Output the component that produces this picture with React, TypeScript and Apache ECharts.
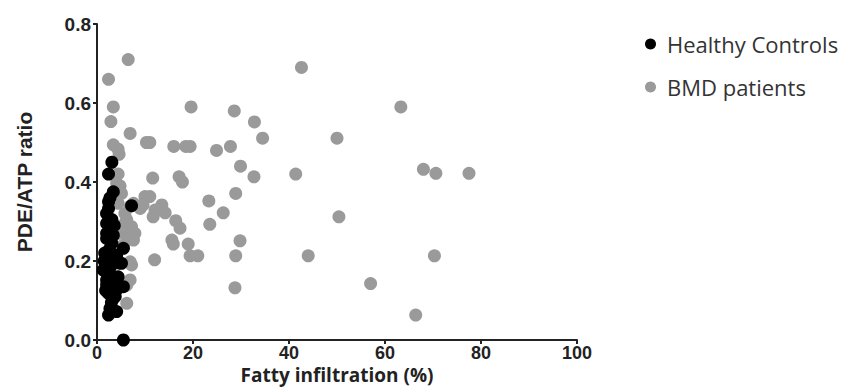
import React, { useEffect, useRef } from "react";
import * as echarts from "echarts";

const seriesNames = ["Healthy Controls", "BMD patients"];

const xTicks = [0, 20, 40, 60, 80, 100];
const yTicks = [0.0, 0.2, 0.4, 0.6, 0.8];

// Healthy Controls: [fatty infiltration %, PDE/ATP ratio]
const healthyControls: [number, number][] = [
  [5.5, 0.0], [3.1, 0.45], [2.4, 0.42], [3.4, 0.375], [2.7, 0.36], [2.4, 0.35],
  [7.2, 0.34], [2.4, 0.333], [2.0, 0.32], [3.1, 0.305], [2.0, 0.295], [2.7, 0.285],
  [2.0, 0.27], [3.4, 0.265], [2.0, 0.257], [3.1, 0.245], [5.5, 0.232], [4.1, 0.215],
  [2.4, 0.211], [1.6, 0.22], [5.1, 0.194], [2.0, 0.195], [2.8, 0.185], [4.6, 0.195],
  [1.3, 0.177], [3.1, 0.16], [2.0, 0.152], [4.4, 0.16], [2.4, 0.17], [5.5, 0.135],
  [4.1, 0.127], [2.4, 0.118], [3.4, 0.105], [2.0, 0.14], [2.7, 0.08], [4.1, 0.072],
  [2.4, 0.063], [3.0, 0.095], [1.8, 0.125], [3.5, 0.14], [2.6, 0.23], [3.6, 0.29],
  [2.8, 0.2], [1.5, 0.2], [3.8, 0.11],
];

// BMD patients: [fatty infiltration %, PDE/ATP ratio]
const bmdPatients: [number, number][] = [
  [6.5, 0.71], [2.4, 0.66], [3.4, 0.59], [2.9, 0.553], [6.9, 0.523], [10.3, 0.5],
  [3.4, 0.494], [4.4, 0.483], [4.6, 0.47], [4.4, 0.42], [4.8, 0.39], [5.1, 0.371],
  [4.1, 0.397], [10.0, 0.363], [7.6, 0.346], [9.0, 0.333], [9.6, 0.342], [4.4, 0.346],
  [5.8, 0.32], [6.2, 0.304], [6.9, 0.338], [7.2, 0.287], [7.9, 0.27], [6.5, 0.266],
  [7.6, 0.253], [5.8, 0.295], [7.2, 0.278], [6.5, 0.257], [5.5, 0.24], [4.4, 0.27],
  [2.0, 0.32], [6.9, 0.198], [7.2, 0.19], [6.9, 0.152], [6.2, 0.139], [6.2, 0.093],
  [11.0, 0.5], [16.0, 0.49], [18.5, 0.49], [19.4, 0.49], [19.6, 0.59], [28.6, 0.58],
  [32.8, 0.552], [34.5, 0.511], [42.6, 0.69], [50.0, 0.511], [63.3, 0.59], [24.9, 0.48],
  [27.8, 0.49], [29.9, 0.44], [32.7, 0.413], [41.4, 0.42], [11.6, 0.41], [17.1, 0.413],
  [17.8, 0.4], [11.0, 0.363], [23.3, 0.352], [28.9, 0.371], [13.5, 0.342], [12.1, 0.329],
  [14.2, 0.322], [11.7, 0.312], [26.3, 0.322], [50.4, 0.312], [16.4, 0.302], [17.3, 0.283],
  [23.5, 0.293], [15.6, 0.253], [15.9, 0.243], [19.0, 0.243], [29.8, 0.251], [19.4, 0.213],
  [21.0, 0.213], [28.9, 0.213], [44.0, 0.213], [12.0, 0.203], [28.75, 0.132], [57.0, 0.143],
  [68.0, 0.432], [70.6, 0.422], [77.5, 0.422], [70.3, 0.213], [66.4, 0.063], [13.0, 0.33],
];

export default function App() {
  const ref = useRef<HTMLDivElement>(null);
  useEffect(() => {
    if (!ref.current) return;
    const chart = echarts.init(ref.current, null, { renderer: "svg" });
    const tickFont = {
      fontFamily: "Liberation Sans",
      fontWeight: "bold" as const,
      fontSize: 19,
      color: "#222",
    };
    chart.setOption({
      animation: false,
      backgroundColor: "#fff",
      grid: {
        left: 97,
        right: 267,
        top: 24,
        bottom: 47,
        containLabel: false,
        outerBoundsMode: "none",
      },
      legend: {
        orient: "vertical",
        left: 640,
        top: 27,
        itemGap: 19,
        itemWidth: 11,
        itemHeight: 11,
        icon: "circle",
        textStyle: {
          fontFamily: "Open Sans",
          fontSize: 22,
          lineHeight: 24,
          color: "#333",
          padding: [0, 0, 0, 6],
        },
        data: seriesNames,
      },
      xAxis: {
        type: "value",
        min: xTicks[0],
        max: xTicks[xTicks.length - 1],
        interval: 20,
        name: "Fatty infiltration (%)",
        nameLocation: "middle",
        nameGap: 25,
        nameMoveOverlap: false,
        nameTextStyle: {
          fontFamily: "Open Sans",
          fontWeight: "bold",
          fontSize: 19,
          lineHeight: 19,
          color: "#222",
          verticalAlign: "top",
        },
        axisLine: { lineStyle: { color: "#222", width: 2 } },
        axisTick: { show: true, length: 4, lineStyle: { color: "#222", width: 2 } },
        axisLabel: { ...tickFont, fontSize: 18, lineHeight: 17, margin: 4 },
        splitLine: { show: false },
      },
      yAxis: {
        type: "value",
        min: yTicks[0],
        max: yTicks[yTicks.length - 1],
        interval: 0.2,
        name: "PDE/ATP ratio",
        nameLocation: "middle",
        nameGap: 62,
        nameMoveOverlap: false,
        nameTextStyle: { fontFamily: "Liberation Sans", fontWeight: "bold", fontSize: 21, color: "#222" },
        axisLine: { show: true, lineStyle: { color: "#222", width: 2 } },
        axisTick: { show: true, length: 4, lineStyle: { color: "#222", width: 2 } },
        axisLabel: { ...tickFont, margin: 6, formatter: (v: number) => v.toFixed(1) },
        splitLine: { show: false },
      },
      series: [
        {
          name: seriesNames[0],
          type: "scatter",
          data: healthyControls,
          symbolSize: 13,
          z: 3,
          itemStyle: { color: "#000000", opacity: 1 },
        },
        {
          name: seriesNames[1],
          type: "scatter",
          data: bmdPatients,
          symbolSize: 13,
          z: 2,
          itemStyle: { color: "#9a9a9a", opacity: 1 },
        },
      ],
    });
    return () => chart.dispose();
  }, []);
  return <div ref={ref} style={{ width: 844, height: 387, position: "absolute", left: 0, top: 0 }} />;
}
